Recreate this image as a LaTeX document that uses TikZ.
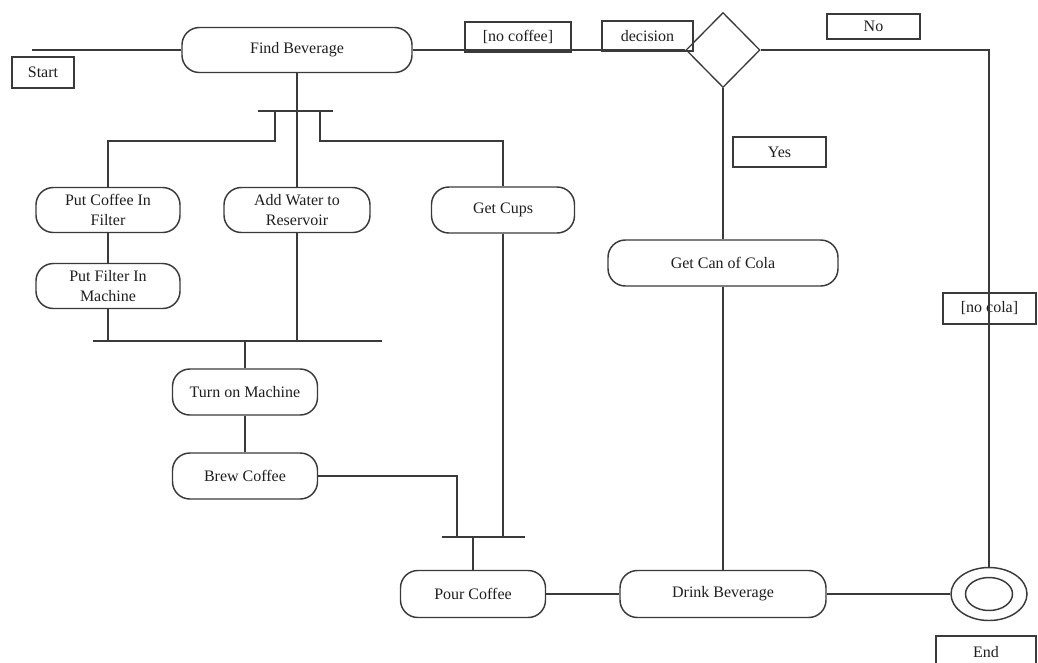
\documentclass[tikz,border=0pt]{standalone}
\usepackage{fontspec}
\setmainfont{Liberation Serif}
\usetikzlibrary{shapes.geometric}
\def\PX{*0.75pt}
\definecolor{ln}{HTML}{3A3A3A}
\definecolor{tx}{HTML}{1E1E1E}
\tikzset{
  act/.style={draw=ln, line width=1.1pt, rounded corners=13pt, align=center,
    inner sep=0pt, text=tx, font=\fontsize{12}{14.5}\selectfont},
  lbl/.style={draw=ln, line width=1pt, inner sep=0pt, text=tx,
    font=\fontsize{12}{14.5}\selectfont},
  conn/.style={draw=ln, line width=1.1pt},
  bar/.style={draw=ln, line width=1.6pt},
  dec/.style={diamond, draw=ln, line width=1pt, inner sep=0pt},
}
\begin{document}
\begin{tikzpicture}[x=0.75pt, y=-0.75pt]
\useasboundingbox (0,0) rectangle (1038,662);
% activity nodes
\node[act, minimum width=230\PX, minimum height=45\PX] (fb) at (297,50) {Find Beverage};
\node[act, minimum width=144\PX, minimum height=45\PX] (pcf) at (108,210) {Put Coffee In\\Filter};
\node[act, minimum width=146\PX, minimum height=45\PX] (aw) at (297,210) {Add Water to\\Reservoir};
\node[act, minimum width=143\PX, minimum height=46\PX] (gc) at (503,210) {Get Cups};
\node[act, minimum width=144\PX, minimum height=45\PX] (pfm) at (108,286) {Put Filter In\\Machine};
\node[act, minimum width=145\PX, minimum height=46\PX] (tm) at (245,392) {Turn on Machine};
\node[act, minimum width=145\PX, minimum height=46\PX] (bc) at (245,476) {Brew Coffee};
\node[act, minimum width=145\PX, minimum height=47\PX] (pc) at (473,594) {Pour Coffee};
\node[act, minimum width=206\PX, minimum height=47\PX] (db) at (723,594) {Drink Beverage};
\node[act, minimum width=230\PX, minimum height=46\PX] (gcc) at (723,263) {Get Can of Cola};
\node[dec, minimum width=74\PX, minimum height=75\PX] (dm) at (723,50) {};
% final node
\node[ellipse, draw=ln, line width=1.1pt, minimum width=76\PX, minimum height=53\PX, inner sep=0pt] (fin) at (989,594) {};
\node[ellipse, draw=ln, line width=1.1pt, minimum width=47\PX, minimum height=33\PX, inner sep=0pt] (fini) at (989,594) {};
% labels
\node[lbl, minimum width=62\PX, minimum height=31\PX] (lstart) at (43,72.5) {Start};
\node[lbl, minimum width=106\PX, minimum height=30\PX] (lnocof) at (518,37) {[no coffee]};
\node[lbl, minimum width=91\PX, minimum height=30\PX] (ldec) at (647.5,36) {decision};
\node[lbl, minimum width=93\PX, minimum height=25\PX] (lno) at (873.5,26.5) {No};
\node[lbl, minimum width=93\PX, minimum height=30\PX] (lyes) at (779.5,152) {Yes};
\node[lbl, minimum width=93\PX, minimum height=31\PX] (lnocola) at (989.5,308.5) {[no cola]};
\node[lbl, minimum width=100\PX, minimum height=32\PX] (lend) at (986,652) {End};
% coordinates
\coordinate (st) at (32,50);
\coordinate (f1l) at (258,111);
\coordinate (f1r) at (333,111);
\coordinate (j1l) at (93,341);
\coordinate (j1r) at (382,341);
\coordinate (j2l) at (442,537);
\coordinate (j2r) at (525,537);
\coordinate (cr) at (989,50);
% connectors
\draw[conn] (st) -- (fb.west);
\draw[conn] (fb.east) -- (dm.west);
\draw[conn] (dm.east) -- (cr) -- (fin.north);
\draw[conn] (dm.south) -- (gcc.north);
\draw[conn] (gcc.south) -- (db.north);
\draw[bar] (f1l) -- (f1r);
\draw[conn] (fb.south) -- (aw.north);
\draw[conn] (275,111) -- (275,141) -| (pcf.north);
\draw[conn] (320,111) -- (320,141) -| (gc.north);
\draw[conn] (pcf.south) -- (pfm.north);
\draw[bar] (j1l) -- (j1r);
\draw[conn] (pfm.south) -- (108,341);
\draw[conn] (aw.south) -- (297,341);
\draw[conn] (245,341) -- (tm.north);
\draw[conn] (tm.south) -- (bc.north);
\draw[conn] (bc.east) -| (457,537);
\draw[bar] (j2l) -- (j2r);
\draw[conn] (gc.south) -- (503,537);
\draw[conn] (473,537) -- (pc.north);
\draw[conn] (pc.east) -- (db.west);
\draw[conn] (db.east) -- (fin.west);
\end{tikzpicture}
\end{document}
